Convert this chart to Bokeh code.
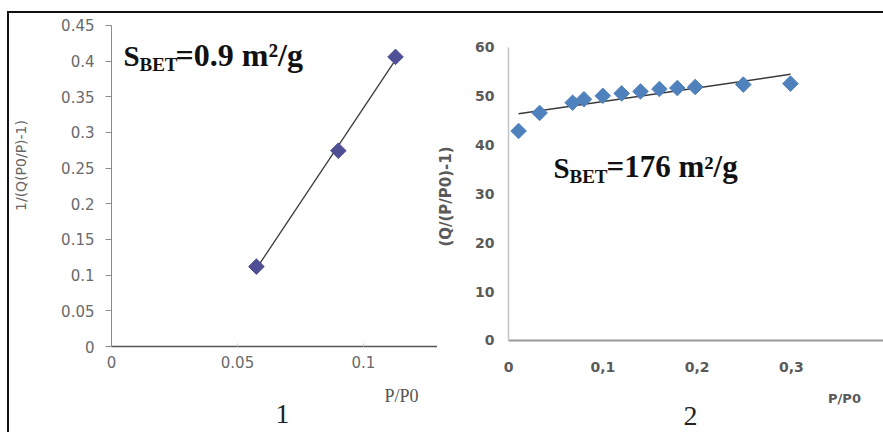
import numpy as np
from bokeh.plotting import figure
from bokeh.models import Label, FixedTicker, Range1d
from bokeh.layouts import row
from bokeh.embed import file_html
from bokeh.resources import INLINE

# ---------------- data ----------------
# chart 1
p1_x = [0.0575, 0.090, 0.1127]
p1_y = [0.112, 0.2745, 0.406]
p1_xticks = [0, 0.05, 0.1]
p1_xlabels = ["0", "0.05", "0.1"]
p1_yticks = [0, 0.05, 0.1, 0.15, 0.2, 0.25, 0.3, 0.35, 0.4, 0.45]
p1_ylabels = ["0", "0.05", "0.1", "0.15", "0.2", "0.25", "0.3", "0.35", "0.4", "0.45"]

# chart 2
p2_x = [0.0107, 0.033, 0.068, 0.080, 0.100, 0.120, 0.140, 0.160, 0.179, 0.198, 0.249, 0.299]
p2_y = [42.9, 46.6, 48.7, 49.4, 50.1, 50.6, 51.0, 51.5, 51.7, 51.9, 52.4, 52.6]
p2_xticks = [0, 0.1, 0.2, 0.3, 0.4]
p2_xlabels = ["0", "0,1", "0,2", "0,3", "0,4"]
p2_yticks = [0, 10, 20, 30, 40, 50, 60]
p2_ylabels = ["0", "10", "20", "30", "40", "50", "60"]

# linear trend lines (least squares, as the spreadsheet trendline)
k1, b1 = np.polyfit(p1_x, p1_y, 1)
fit1_x = [min(p1_x), max(p1_x)]
fit1_y = [k1 * v + b1 for v in fit1_x]
k2, b2 = np.polyfit(p2_x, p2_y, 1)
fit2_x = [min(p2_x), max(p2_x)]
fit2_y = [k2 * v + b2 for v in fit2_x]

SERIF = "Liberation Serif"
SANS = "DejaVu Sans"
H = 419  # canvas height of each panel


def base_fig(w, xr, yr):
    p = figure(width=w, height=H, x_range=xr, y_range=yr,
               output_backend="svg", toolbar_location=None,
               min_border_left=0, min_border_top=0, min_border_bottom=0,
               min_border_right=0)
    p.outline_line_color = None
    p.grid.visible = False
    p.background_fill_color = "white"
    p.border_fill_color = "white"
    return p


def add_label(p, left, px, py, text, size, font, color, style="normal",
              align="left", angle=0.0):
    # px, py: centre-line position in page pixels; panel bottom is at page y = 432
    p.add_layout(Label(x=px - left, y=432 - py, x_units="screen", y_units="screen",
                       text=text, text_font=font, text_font_size=f"{size}px",
                       text_color=color, text_font_style=style,
                       text_align=align, text_baseline="middle", angle=angle))


# ---------------- chart 1 ----------------
# panel spans page x 9..437, y 13..432 ; origin at page (111, 346)
p1 = base_fig(428, Range1d(-0.040476, 0.129365), Range1d(-0.12056, 0.46682))
p1.xaxis.ticker = FixedTicker(ticks=p1_xticks)
p1.xaxis.major_label_overrides = dict(zip(p1_xticks, p1_xlabels))
p1.yaxis.ticker = FixedTicker(ticks=p1_yticks)
p1.yaxis.major_label_overrides = dict(zip(p1_yticks, p1_ylabels))
p1.xaxis.fixed_location = p1_yticks[0]
p1.yaxis.fixed_location = p1_xticks[0]
p1.xaxis.bounds = (p1_xticks[0], 0.129365)
p1.yaxis.bounds = (p1_yticks[0], p1_yticks[-1])
for ax in (p1.xaxis[0], p1.yaxis[0]):
    ax.minor_tick_line_color = None
    ax.major_label_text_font = SANS
    ax.major_label_text_font_size = "15px"
    ax.major_label_text_color = "#6a6a6a"
p1.yaxis.axis_line_color = "#8a8a8a"
p1.yaxis.major_tick_line_color = "#8a8a8a"
p1.yaxis.major_tick_out = 6
p1.yaxis.major_tick_in = 0
p1.yaxis.major_label_standoff = 11
p1.xaxis.axis_line_color = "#555555"
p1.xaxis.axis_line_width = 1.5
p1.xaxis.major_tick_line_color = "#cccccc"
p1.xaxis.major_tick_out = 0
p1.xaxis.major_tick_in = 3
p1.xaxis.major_label_standoff = 9

p1.line(fit1_x, fit1_y, line_color="#3a3a3a", line_width=1.3)
p1.scatter(p1_x, p1_y, marker="square", angle=np.pi / 4, size=11,
           fill_color="#4f4f96", line_color="#4f4f96")

L1 = 9
add_label(p1, L1, 123, 55, "S", 29, SERIF, "#111111", "bold")
add_label(p1, L1, 139, 64, "BET", 19, SERIF, "#111111", "bold")
add_label(p1, L1, 175, 54, "=0.9 m\u00b2/g", 32, SERIF, "#111111", "bold")
add_label(p1, L1, 401, 395, "P/P0", 18, SERIF, "#555555", align="center")
add_label(p1, L1, 282, 413, "1", 28, SERIF, "#222222", align="center")
add_label(p1, L1, 20, 165, "1/(Q(P0/P)-1)", 14, SANS, "#666666",
          align="center", angle=np.pi / 2)

# ---------------- chart 2 ----------------
# panel spans page x 437..883, y 13..432 ; origin at page (508, 340)
p2 = base_fig(446, Range1d(-0.07529, 0.39767), Range1d(-18.84, 66.96))
p2.xaxis.ticker = FixedTicker(ticks=p2_xticks)
p2.xaxis.major_label_overrides = dict(zip(p2_xticks, p2_xlabels))
p2.yaxis.ticker = FixedTicker(ticks=p2_yticks)
p2.yaxis.major_label_overrides = dict(zip(p2_yticks, p2_ylabels))
p2.xaxis.fixed_location = p2_yticks[0]
p2.yaxis.fixed_location = p2_xticks[0]
p2.xaxis.bounds = (p2_xticks[0], 0.39767)
p2.yaxis.bounds = (p2_yticks[0], p2_yticks[-1])
for ax in (p2.xaxis[0], p2.yaxis[0]):
    ax.minor_tick_line_color = None
    ax.major_tick_line_color = None
    ax.major_tick_out = 0
    ax.major_tick_in = 0
    ax.major_label_text_font = SANS
    ax.major_label_text_font_style = "bold"
    ax.major_label_text_font_size = "14px"
    ax.major_label_text_color = "#5a5a5a"
p2.yaxis.axis_line_color = "#c4c4c4"
p2.yaxis.axis_line_width = 1.5
p2.yaxis.major_label_standoff = 14
p2.xaxis.axis_line_color = "#9a9a9a"
p2.xaxis.axis_line_width = 2
p2.xaxis.major_label_standoff = 22

p2.line(fit2_x, fit2_y, line_color="#3a3a3a", line_width=1.5)
p2.scatter(p2_x, p2_y, marker="square", angle=np.pi / 4, size=11,
           fill_color="#4f81bd", line_color="#4f81bd")

L2 = 437
add_label(p2, L2, 553, 167, "S", 29, SERIF, "#111111", "bold")
add_label(p2, L2, 569, 176, "BET", 19, SERIF, "#111111", "bold")
add_label(p2, L2, 606, 166, "=176 m\u00b2/g", 31, SERIF, "#111111", "bold")
add_label(p2, L2, 844, 398, "P/P0", 13, SANS, "#5a5a5a", "bold", align="center")
add_label(p2, L2, 690, 415, "2", 28, SERIF, "#222222", align="center")
add_label(p2, L2, 445, 196, "(Q/(P/P0)-1)", 15, SANS, "#5a5a5a", "bold",
          align="center", angle=np.pi / 2)

layout = row(p1, p2, margin=(11, 0, 0, 7),
             styles={"border-top": "2px solid #111111", "border-left": "2px solid #111111"})

open("out.html", "w").write(file_html(layout, INLINE))
